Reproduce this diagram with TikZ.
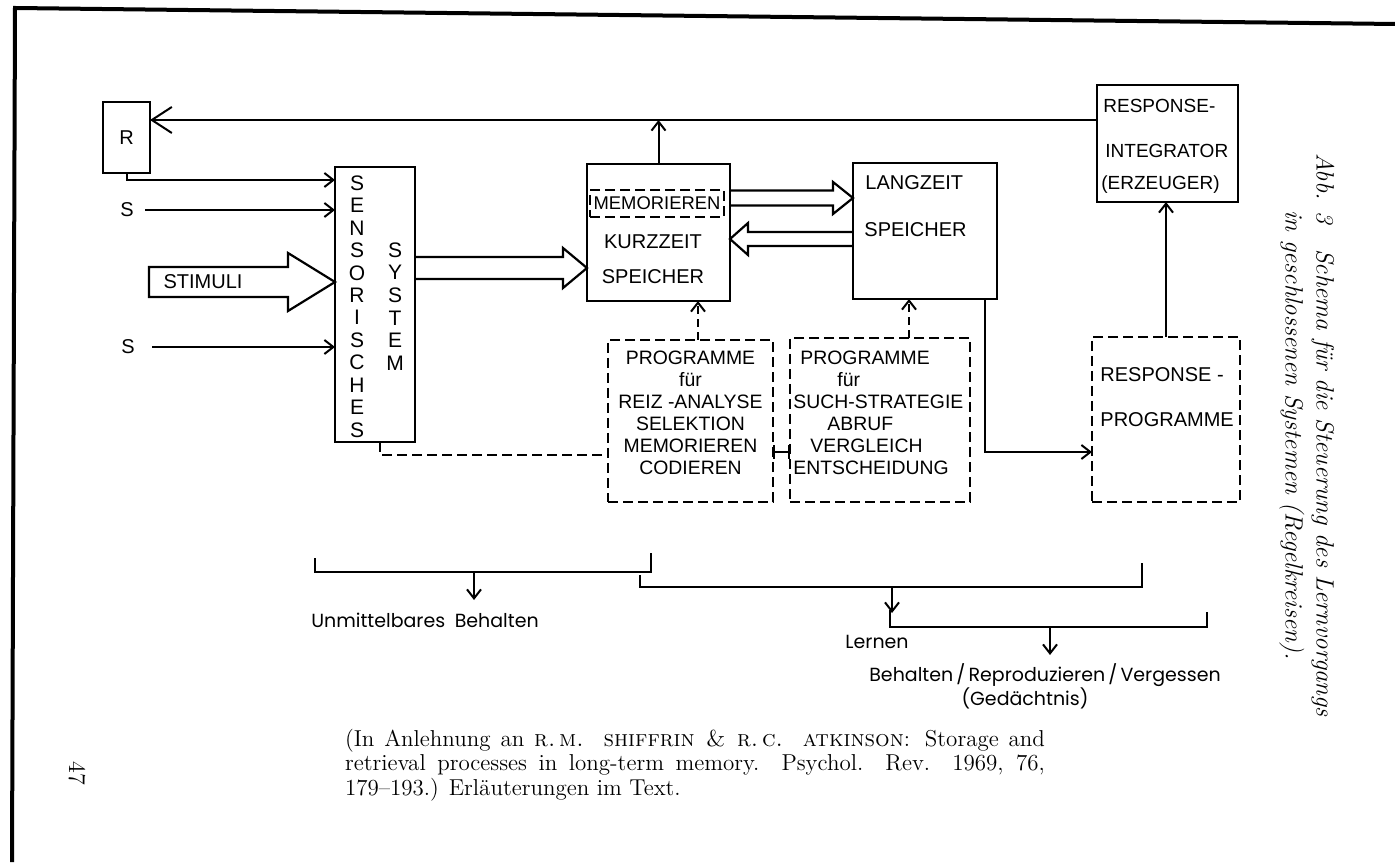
\documentclass[tikz,border=0pt]{standalone}
\usepackage{fontspec}
\newfontfamily\lettering{Liberation Sans}
\newfontfamily\roundhand{Poppins}
\usetikzlibrary{positioning, arrows.meta, calc}

% hollow block arrow: [extra path] {tail} {tip} {half shaft} {half head} {head offset}
\newcommand{\fatarrow}[6][]{%
  \draw[fat] ($(#2)+(0,-#4)$) -- ($(#3)+(#6,-#4)$) -- ($(#3)+(#6,-#5)$) -- (#3)
    -- ($(#3)+(#6,#5)$) -- ($(#3)+(#6,#4)$) -- ($(#2)+(0,#4)$) #1;}

\begin{document}
\begin{tikzpicture}[
        x=0.5pt, y=-0.5pt,
        font=\lettering\fontsize{10}{11}\selectfont,
        box/.style={draw, line width=1.1pt, inner sep=0pt, outer sep=0pt},
        dbox/.style={box, dash pattern=on 5pt off 2.5pt},
        lbl/.style={inner sep=0pt},
        prgtext/.style={inner sep=0pt, font=\lettering\fontsize{9.7}{11}\selectfont},
        arr/.style={-{Straight Barb[length=4.5pt, width=7pt]}, line width=1pt},
        bigarr/.style={-{Straight Barb[length=10pt, width=13pt]}, line width=1pt},
        darr/.style={arr, dash pattern=on 4pt off 2.5pt},
        fat/.style={line width=1.1pt, line join=miter},
        brk/.style={line width=1pt},
        under/.style={inner sep=0pt, font=\roundhand\fontsize{9.5}{12}\selectfont}
    ]
    \useasboundingbox (0,0) rectangle (1395,865);

    % page frame
    \draw[line width=2pt] (12,862) -- (15,8) -- (1395,24);

    % Boxes
    \node[box, minimum width=23.5pt, minimum height=35.5pt] (resp) at (126.5,137.5) {R};
    \node[box, minimum width=40pt, minimum height=137.5pt] (sens) at (375,304.5) {};
    \node[box, minimum width=71.5pt, minimum height=68.5pt] (kzs) at (658.5,232.5) {};
    \node[dbox, line width=0.8pt, minimum width=67pt, minimum height=13.5pt,
          font=\lettering\fontsize{9.2}{10}\selectfont] (mem) at (657,203.5) {MEMORIEREN};
    \node[box, minimum width=72pt, minimum height=68pt] (lzs) at (925,231) {};
    \node[box, minimum width=70.5pt, minimum height=58.5pt] (ri) at (1167.5,143.5) {};
    \node[dbox, minimum width=82.5pt, minimum height=81pt] (prg1) at (690.5,421) {};
    \node[dbox, minimum width=90pt, minimum height=82pt] (prg2) at (880,420) {};
    \node[dbox, minimum width=74pt, minimum height=82.5pt] (rp) at (1166,419.5) {};

    % Texts in boxes
    \foreach \c [count=\i] in {S,E,N,S,O,R,I,S,C,H,E,S}
        \node[lbl, font=\lettering\fontsize{10.5}{11}\selectfont] (sl\i) at (357,{183+22.45*(\i-1)}) {\c};
    \foreach \c [count=\i] in {S,Y,S,T,E,M}
        \node[lbl, font=\lettering\fontsize{10.5}{11}\selectfont] (sy\i) at (395,{250+22.6*(\i-1)}) {\c};
    \node[lbl] (kz1) at (653,242) {KURZZEIT};
    \node[lbl] (kz2) at (653,277) {SPEICHER};
    \node[lbl, anchor=west] (lz1) at (865,183) {LANGZEIT};
    \node[lbl, anchor=west] (lz2) at (864,230) {SPEICHER};
    \node[lbl, anchor=west, font=\lettering\fontsize{9.5}{11}\selectfont] (ri1) at (1103,106) {RESPONSE-};
    \node[lbl, anchor=west, font=\lettering\fontsize{9.5}{11}\selectfont] (ri2) at (1105,151) {INTEGRATOR};
    \node[lbl, anchor=west, font=\lettering\fontsize{9.5}{11}\selectfont] (ri3) at (1101,185) {(ERZEUGER)};
    \node[prgtext, align=center] (p1t) at (690.5,412.5)
        {PROGRAMME\\für\\REIZ -ANALYSE\\SELEKTION\\MEMORIEREN\\CODIEREN};
    \node[prgtext, align=left, anchor=west] (p2t) at (793,412.5)
        {\hspace*{3.5pt}PROGRAMME\\\hspace*{22pt}für\\SUCH-STRATEGIE\\\hspace*{17pt}ABRUF\\\hspace*{8.5pt}VERGLEICH\\ENTSCHEIDUNG};
    \node[lbl, anchor=west] (rp1) at (1100,375) {RESPONSE -};
    \node[lbl, anchor=west] (rp2) at (1100,420) {PROGRAMME};

    % Inputs
    \node[lbl, inner xsep=5.5pt] (s1) at (127,210) {S};
    \node[lbl, inner xsep=8.5pt] (s2) at (128,347) {S};
    \coordinate (stt) at (149,282);
    \coordinate (sti) at (sens.west |- stt);
    \fatarrow[-- cycle]{stt}{sti}{15}{29}{-47}
    \node[lbl] (stim) at (203,282) {STIMULI};

    % Arrows
    \coordinate (ytop) at (0,120);
    \coordinate (yfb) at (0,180);
    \draw[bigarr] (ri.west |- ytop) -- (resp.east |- ytop);
    \draw[arr] (kzs.north) -- (kzs.north |- ytop);
    \draw[arr] (resp.south) |- (sens.west |- yfb);
    \draw[arr] (s1.east) -- (sens.west |- s1);
    \draw[arr] (s2.east) -- (sens.west |- s2);

    \coordinate (ya) at (0,268);
    \coordinate (fa1) at (sens.east |- ya);
    \coordinate (fa1e) at (kzs.west |- ya);
    \fatarrow{fa1}{fa1e}{11}{20}{-24}
    \coordinate (yb) at (0,198);
    \coordinate (fa2) at (kzs.east |- yb);
    \coordinate (fa2e) at (lzs.west |- yb);
    \fatarrow{fa2}{fa2e}{7.5}{16}{-20}
    \coordinate (yc) at (0,239);
    \coordinate (fa3) at (lzs.west |- yc);
    \coordinate (fa3e) at (kzs.east |- yc);
    \fatarrow{fa3}{fa3e}{7}{16}{18}

    \coordinate (xd1) at (698,0);
    \coordinate (xd2) at (909,0);
    \draw[darr] (xd1 |- prg1.north) -- (xd1 |- kzs.south);
    \draw[darr] (xd2 |- prg2.north) -- (xd2 |- lzs.south);

    \coordinate (xl) at (985,0);
    \coordinate (yl) at (0,452);
    \draw[arr] (xl |- lzs.south) |- (rp.west |- yl);
    \draw[arr] (rp.north) -- (rp.north |- ri.south);

    \coordinate (xs) at (380,0);
    \coordinate (ys) at (0,455);
    \draw[brk, dash pattern=on 5pt off 2.5pt] (xs |- sens.south) |- (prg1.west |- ys);
    \coordinate (yp) at (0,452);
    \draw[line width=1pt, {Bar[width=7pt]}-{Bar[width=7pt]}] (prg1.east |- yp) -- (prg2.west |- yp);

    % Brackets
    \coordinate (b1l) at (315,558);
    \coordinate (b1r) at (651,553);
    \coordinate (b1y) at (0,572);
    \coordinate (b1m) at (474,572);
    \draw[brk] (b1l) |- (b1r |- b1y) -- (b1r);
    \draw[arr] (b1m) -- ++(0,28);
    \node[under] (unm) at (425,620) {Unmittelbares\enspace Behalten};

    \coordinate (b2l) at (640,575);
    \coordinate (b2r) at (1142,563);
    \coordinate (b2y) at (0,587);
    \coordinate (b2m) at (892,587);
    \draw[brk] (b2l) |- (b2r |- b2y) -- (b2r);
    \draw[arr] (b2m) -- ++(0,26);
    \node[under] (lern) at (877,642) {Lernen};

    \coordinate (b3l) at (890,610);
    \coordinate (b3r) at (1207,612);
    \coordinate (b3y) at (0,627);
    \coordinate (b3m) at (1050,627);
    \draw[brk] (b3l) |- (b3r |- b3y) -- (b3r);
    \draw[arr] (b3m) -- ++(0,28);
    \node[under] (beh) at (1045,675) {Behalten\,/\,Reproduzieren\,/\,Vergessen};
    \node[under] (ged) at (1025,698) {(Gedächtnis)};

    % Captions
    \node[inner sep=0pt, text width=350pt, align=justify,
          font=\rmfamily\fontsize{11.5}{12.25}\selectfont] (cite) at (695,765)
        {(In Anlehnung an \textsc{r.\,m. shiffrin \& r.\,c. atkinson}: Storage and\linebreak
         retrieval processes in long-term memory. Psychol. Rev. 1969, 76,\linebreak
         179--193.) Erläuterungen im Text.};
    \node[inner sep=0pt, rotate=-90, align=center,
          font=\rmfamily\itshape\fontsize{12.5}{15.5}\selectfont] (abb) at (1307,435)
        {Abb. 3\quad Schema für die Steuerung des Lernvorgangs\\in geschlossenen Systemen (Regelkreisen).};
    \node[inner sep=0pt, rotate=-90, font=\rmfamily\fontsize{12}{14}\selectfont] (pnum) at (77,773) {47};
\end{tikzpicture}
\end{document}
